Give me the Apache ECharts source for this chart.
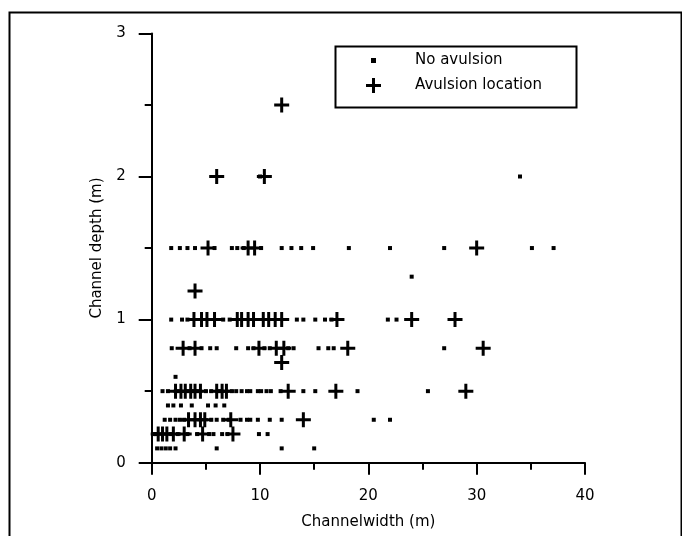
<!DOCTYPE html>
<html>
<head>
<meta charset="utf-8">
<script src="https://cdn.jsdelivr.net/npm/echarts@6/dist/echarts.min.js"></script>
<style>
html,body{margin:0;padding:0;background:#fff;}
#chart{width:682px;height:536px;}
</style>
</head>
<body>
<div id="chart"></div>
<script>
// Channel depth (m) levels with the channel widths (m) observed at each
const noAvulsionRows = [
  [2.0, [34.0, 10.0]],
  [1.5, [1.8, 2.6, 3.3, 4.0, 5.8, 7.4, 7.9, 8.5, 10.1, 12.0, 12.9, 13.8, 14.9, 18.2, 22.0, 27.0, 35.1, 37.1]],
  [1.3, [24.0]],
  [1.0, [1.8, 2.8, 3.3, 6.6, 7.2, 13.4, 14.0, 15.1, 16.0, 16.6, 21.8, 22.6]],
  [0.8, [1.85, 3.5, 4.6, 5.4, 6.0, 7.8, 8.9, 9.4, 10.4, 10.9, 12.6, 13.1, 15.4, 16.3, 16.8, 27.0]],
  [0.6, [2.2]],
  [0.5, [1.0, 1.5, 2.4, 3.3, 3.8, 4.2, 5.0, 5.5, 6.3, 7.4, 7.8, 8.3, 8.8, 9.1, 9.8, 10.1, 10.6, 11.0, 11.9, 14.0, 15.1, 19.0, 25.5]],
  [0.4, [1.5, 2.0, 2.7, 3.7, 5.2, 5.9, 6.7]],
  [0.3, [1.2, 1.7, 2.2, 2.6, 3.0, 5.5, 6.0, 6.6, 7.1, 8.2, 8.8, 9.1, 9.8, 10.9, 12.0, 20.5, 22.0]],
  [0.2, [0.2, 0.4, 1.8, 2.4, 3.3, 4.2, 5.3, 5.7, 6.5, 7.0, 9.9, 10.7]],
  [0.1, [0.5, 0.9, 1.3, 1.7, 2.2, 6.0, 12.0, 15.0]]
];
const avulsionRows = [
  [2.5, [12.0]],
  [2.0, [6.0, 10.4]],
  [1.5, [5.2, 8.9, 9.5, 30.0]],
  [1.2, [4.0]],
  [1.0, [3.9, 4.6, 5.1, 5.8, 7.9, 8.3, 8.9, 9.4, 10.3, 10.8, 11.4, 12.0, 17.1, 24.0, 28.0]],
  [0.8, [2.9, 4.0, 9.9, 11.5, 12.2, 18.1, 30.6]],
  [0.7, [12.0]],
  [0.5, [2.2, 2.7, 3.1, 3.6, 4.0, 4.5, 6.0, 6.5, 6.9, 12.6, 17.0, 29.0]],
  [0.3, [3.4, 4.0, 4.5, 4.9, 7.3, 14.0]],
  [0.2, [0.6, 1.0, 1.4, 2.0, 3.0, 4.7, 7.5]]
];
const seriesNames = ['No avulsion', 'Avulsion location'];
const xTicks = [0, 10, 20, 30, 40];
const yTicks = [0, 1, 2, 3];

function flatten(rows) {
  const out = [];
  rows.forEach(function (r) { r[1].forEach(function (w) { out.push([w, r[0]]); }); });
  return out;
}

const FONT = 'DejaVu Sans';
const plusPath = 'path://M6,0H9V6H15V9H9V15H6V9H0V6H6Z';

const chart = echarts.init(document.getElementById('chart'), null, {renderer: 'canvas'});
chart.setOption({
  animation: false,
  backgroundColor: '#fff',
  textStyle: {fontFamily: FONT, color: '#000'},
  grid: {left: 151.7, right: 97, top: 33.4, bottom: 73.3, containLabel: false},
  graphic: [
    {type: 'rect', left: 7, top: 10, shape: {width: 672, height: 540}, style: {fill: 'none', stroke: '#000', lineWidth: 2}, silent: true},
    {type: 'rect', left: 333, top: 44, shape: {width: 241, height: 61}, style: {fill: 'none', stroke: '#000', lineWidth: 2}, silent: true, z: 10}
  ],
  legend: [
    {
      data: [{name: seriesNames[0]}],
      orient: 'vertical', left: 371, top: 53, padding: 0,
      itemWidth: 5, itemHeight: 5,
      textStyle: {fontFamily: FONT, fontSize: 15, color: '#000', padding: [0, 0, 0, 34]}
    },
    {
      data: [{name: seriesNames[1]}],
      orient: 'vertical', left: 366, top: 78, padding: 0,
      itemWidth: 15, itemHeight: 15,
      textStyle: {fontFamily: FONT, fontSize: 15, color: '#000', padding: [0, 0, 0, 29]}
    }
  ],
  xAxis: {
    type: 'value', min: xTicks[0], max: xTicks[xTicks.length - 1], interval: 10,
    name: 'Channelwidth (m)', nameLocation: 'middle', nameGap: 52,
    nameTextStyle: {fontFamily: FONT, fontSize: 15, color: '#000'},
    axisLine: {show: true, onZero: false, lineStyle: {color: '#000', width: 2}},
    axisTick: {show: true, length: 12, lineStyle: {color: '#000', width: 2}},
    minorTick: {show: true, splitNumber: 2, length: 7, lineStyle: {color: '#000', width: 2}},
    axisLabel: {fontFamily: FONT, fontSize: 15, color: '#000', margin: 26},
    splitLine: {show: false}
  },
  yAxis: {
    type: 'value', min: yTicks[0], max: yTicks[yTicks.length - 1], interval: 1,
    name: 'Channel depth (m)', nameLocation: 'middle', nameGap: 47,
    nameTextStyle: {fontFamily: FONT, fontSize: 15, color: '#000'},
    axisLine: {show: true, onZero: false, lineStyle: {color: '#000', width: 2}},
    axisTick: {show: true, length: 13, lineStyle: {color: '#000', width: 2}},
    minorTick: {show: true, splitNumber: 2, length: 7, lineStyle: {color: '#000', width: 2}},
    axisLabel: {fontFamily: FONT, fontSize: 15, color: '#000', margin: 26},
    splitLine: {show: false}
  },
  series: [
    {
      name: seriesNames[0], type: 'scatter', data: flatten(noAvulsionRows),
      symbol: 'rect', symbolSize: 4,
      itemStyle: {color: '#000', opacity: 1}
    },
    {
      name: seriesNames[1], type: 'scatter', data: flatten(avulsionRows),
      symbol: plusPath, symbolSize: 15,
      itemStyle: {color: '#000', opacity: 1}
    }
  ]
});
</script>
</body>
</html>
